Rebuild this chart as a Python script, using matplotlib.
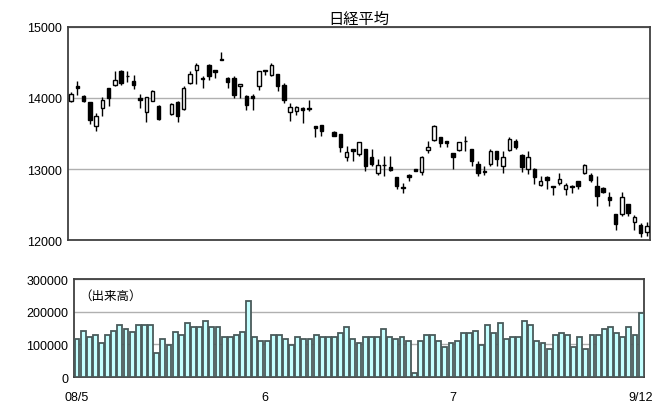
import numpy as np
import matplotlib
matplotlib.use('Agg')
import matplotlib.pyplot as plt

plt.rcParams['font.family'] = ['Liberation Sans', 'Noto Sans CJK JP', 'DejaVu Sans']

# daily prices (nan = day not readable)
nan = np.nan
opens = [13957, 14171, 14029, 13943, 13600, 13857, 14143, 14186, 14386, 14314,
         14243, 14000, 13800, 13957, 13886, nan, 13771, 13943, 13843, 14214,
         14400, 14286, 14457, 14400, 14550, 14286, 14286, 14171, 14029, 14029,
         14171, 14400, 14329, 14343, 14186, 13800, 13814, 13857, 13857, 13600,
         13614, nan, 13514, 13486, 13171, 13286, 13214, 13286, 13171, 12943,
         13057, 13029, 12886, 12743, 12914, 13000, 12957, 13271, 13414, 13457,
         13400, 13229, 13271, 13400, 13286, 13071, 12971, 13071, 13257, 13043,
         13271, 13400, 13200, 13000, 13000, 12771, 12886, 12757, 12800, 12714,
         12757, 12829, 12943, 12914, 12757, 12729, 12600, 12371, 12371, 12514,
         12257, 12214, 12114]
highs = [14086, 14243, 14043, 13943, 13786, 14014, 14143, 14386, 14400, 14386,
         14329, 14057, 14014, 14114, 13900, nan, 13929, 13957, 14171, 14386,
         14486, 14314, 14471, 14400, 14643, 14300, 14314, 14200, 14043, 14057,
         14386, 14400, 14486, 14343, 14214, 13929, 13886, 13871, 13971, 13600,
         13614, nan, 13529, 13486, 13329, 13286, 13386, 13286, 13286, 13143,
         13186, 13186, 12886, 12800, 12929, 13000, 13186, 13400, 13614, 13457,
         13400, 13229, 13386, 13471, 13286, 13114, 13043, 13286, 13257, 13257,
         13457, 13429, 13214, 13257, 13014, 12900, 12900, 12757, 12943, 12800,
         12771, 12829, 13071, 12943, 12900, 12743, 12671, 12371, 12671, 12514,
         12357, 12243, 12257]
lows = [13943, 14043, 13943, 13629, 13529, 13743, 13886, 14171, 14186, 14229,
        14129, 13857, 13657, 13957, 13686, nan, 13757, 13657, 13829, 14200,
        14200, 14143, 14257, 14286, 14529, 14143, 14000, 14000, 13829, 13829,
        14114, 14329, 14314, 14100, 13929, 13671, 13757, 13643, 13814, 13457,
        13471, nan, 13471, 13243, 13114, 13114, 13186, 12971, 13043, 12914,
        12900, 12971, 12714, 12657, 12829, 12971, 12914, 13229, 13400, 13314,
        13314, 13000, 13257, 13257, 13043, 12900, 12914, 13043, 13043, 12943,
        13257, 13286, 12957, 12929, 12786, 12757, 12714, 12629, 12771, 12629,
        12657, 12714, 12929, 12814, 12486, 12657, 12486, 12143, 12343, 12343,
        12143, 12043, 12057]
closes = [14057, 14143, 13957, 13686, 13743, 13971, 14000, 14257, 14214, 14307,
          14186, 13971, 14014, 14100, 13700, nan, 13914, 13743, 14143, 14343,
          14457, 14271, 14314, 14371, 14529, 14229, 14043, 14200, 13900, 14000,
          14386, 14386, 14457, 14171, 13971, 13871, 13871, 13829, 13850, 13571,
          13529, nan, 13471, 13314, 13243, 13257, 13386, 13043, 13071, 13057,
          13050, 12986, 12757, 12736, 12886, 12971, 13171, 13314, 13600, 13371,
          13371, 13171, 13386, 13393, 13114, 12943, 12964, 13257, 13143, 13171,
          13429, 13314, 13029, 13171, 12886, 12829, 12843, 12750, 12857, 12771,
          12750, 12757, 13057, 12843, 12614, 12671, 12557, 12229, 12600, 12386,
          12329, 12100, 12200]

# volume (出来高), thousands
volume = [116, 141, 122, 130, 105, 130, 142, 160, 147, 137,
          160, 160, 160, 73, 116, 98, 137, 130, 165, 154,
          154, 171, 154, 154, 121, 121, 130, 137, 233, 121,
          111, 111, 130, 130, 115, 98, 121, 115, 115, 130,
          121, 121, 121, 136, 154, 115, 104, 121, 121, 121,
          147, 121, 115, 121, 110, 11, 110, 128, 128, 110,
          91, 104, 110, 136, 136, 141, 98, 160, 136, 165,
          115, 121, 121, 170, 160, 111, 105, 86, 128, 136,
          128, 92, 121, 86, 128, 128, 148, 154, 136, 121,
          154, 128, 196]
volume = [v * 1000 for v in volume]

date_labels = ['08/5', '6', '7', '9/12']

o = np.array(opens, float)
h = np.array(highs, float)
l = np.array(lows, float)
c = np.array(closes, float)
n = len(o)
x = np.arange(n)
n_lab = len(date_labels)
lab_pos = [i * (n - 1) / (n_lab - 1) for i in range(n_lab)]

fig = plt.figure(figsize=(6.6, 4.1), dpi=100)
ax1 = fig.add_axes([0.103, 0.412, 0.882, 0.520])
ax2 = fig.add_axes([0.112, 0.078, 0.864, 0.239])

# candles
ok = ~np.isnan(o)
ax1.vlines(x[ok], l[ok], h[ok], color='black', linewidth=1, zorder=3)
up = ok & (c >= o)
dn = ok & (c < o)
ax1.bar(x[up], (c - o)[up], bottom=o[up], width=0.55, color='white',
        edgecolor='black', linewidth=1, zorder=4)
ax1.bar(x[dn], (o - c)[dn], bottom=c[dn], width=0.55, color='black',
        edgecolor='black', linewidth=1, zorder=4)

ax1.set_xlim(-0.5, n - 0.5)
ax1.set_ylim(12000, 15000)
ax1.set_yticks([12000, 13000, 14000, 15000])
ax1.set_xticks([])
ax1.yaxis.grid(True, color='#b0b0b0', linewidth=1)
ax1.set_axisbelow(True)
ax1.tick_params(axis='y', length=0, labelsize=9, pad=4)
ax1.set_title('日経平均', fontsize=11, pad=3,
              family=['Noto Sans CJK JP', 'DejaVu Sans'])

# volume
ax2.bar(x, volume, width=0.8, color='#c4ffff', edgecolor='#4a5a5a',
        linewidth=1.3, zorder=3)
ax2.set_xlim(-0.5, n - 0.5)
ax2.set_ylim(0, 300000)
ax2.set_yticks([0, 100000, 200000, 300000])
ax2.yaxis.grid(True, color='#b0b0b0', linewidth=1)
ax2.set_axisbelow(True)
ax2.tick_params(axis='y', length=0, labelsize=9, pad=4)
ax2.set_xticks(lab_pos)
ax2.set_xticklabels(date_labels)
ax2.tick_params(axis='x', length=0, labelsize=9, pad=10)
ax2.text(0.01, 0.83, '（出来高）', transform=ax2.transAxes, fontsize=9,
         family=['Noto Sans CJK JP', 'DejaVu Sans'], va='center')

for ax in (ax1, ax2):
    for s in ax.spines.values():
        s.set_color('#404040')
        s.set_linewidth(1.3)

plt.savefig('out.png', dpi=100)
